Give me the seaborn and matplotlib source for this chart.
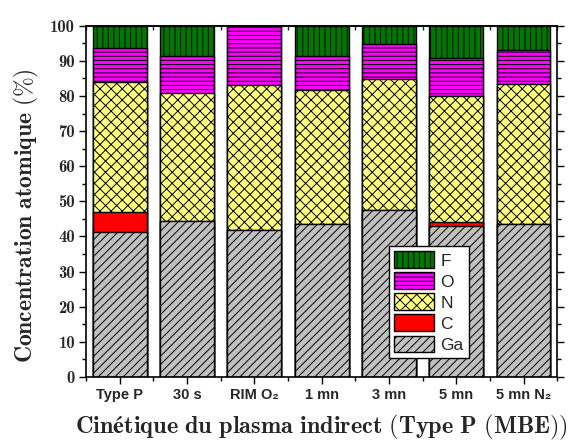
import matplotlib
matplotlib.use("Agg")
import matplotlib.pyplot as plt
import matplotlib.patches as mpatches
import numpy as np
import pandas as pd
import seaborn as sns

# Données (% atomique)
categories = ["Type P", "30 s", "RIM O\u2082", "1 mn", "3 mn", "5 mn", "5 mn N\u2082"]
ga = [41.4, 44.4, 41.9, 43.5, 47.6, 43.1, 43.6]
c = [5.5, 0.0, 0.0, 0.0, 0.0, 0.9, 0.0]
n = [37.2, 36.4, 41.2, 38.3, 37.3, 36.1, 39.8]
o = [9.5, 10.7, 16.9, 9.7, 9.9, 10.6, 9.6]
f = [6.4, 8.5, 0.0, 8.5, 5.2, 9.3, 7.0]
yticks = list(range(0, 101, 10))

elements = ["Ga", "C", "N", "O", "F"]
colors = {"Ga": "#C0C0C0", "C": "#FF0000", "N": "#FFFF80", "O": "#FF00FF", "F": "#007800"}
hatches = {"Ga": "////", "C": "", "N": "xxx", "O": "----", "F": "|||"}

df = pd.DataFrame({"cat": categories, "Ga": ga, "C": c, "N": n, "O": o, "F": f})
cum = df[elements].cumsum(axis=1)

sns.set_theme(style="ticks")
plt.rcParams["hatch.color"] = "black"
plt.rcParams["hatch.linewidth"] = 0.7
plt.rcParams["mathtext.fontset"] = "cm"
plt.rcParams["font.family"] = ["Liberation Sans", "DejaVu Sans"]

fig = plt.figure(figsize=(5.78, 4.44), dpi=100)
ax = fig.add_axes([0.149, 0.151, 0.815, 0.791])

# empilement : on trace les cumuls du haut vers le bas
for el in reversed(elements):
    sns.barplot(x=df["cat"], y=cum[el], color=colors[el], hatch=hatches[el],
                edgecolor="black", linewidth=1, width=0.8, saturation=1, ax=ax)

ax.set_xlim(-0.5, 6.5)
ax.set_ylim(0, 100)
ax.set_yticks(yticks)
ax.set_yticklabels([str(v) for v in yticks], fontsize=12, family=["cmb10", "DejaVu Serif"])
ax.set_yticks(np.arange(0, 101, 5), minor=True)
ax.set_xticks(range(len(categories)))
ax.set_xticklabels(categories, fontweight="bold", fontsize=10.5)
ax.set_xticks(np.arange(-0.5, 7, 1), minor=True)

ax.tick_params(axis="both", which="major", direction="out", length=5, width=1, color="black", pad=3)
ax.tick_params(axis="both", which="minor", direction="out", length=3, width=1, color="black")
ax.tick_params(axis="y", right=True, which="both")

top = ax.secondary_xaxis("top")
top.set_xticks(range(len(categories)))
top.set_xticks(np.arange(-0.5, 7, 1), minor=True)
top.tick_params(which="major", direction="in", length=6, width=1, labeltop=False)
top.tick_params(which="minor", direction="in", length=3, width=1)
top.set_xticklabels([])

for sp in ax.spines.values():
    sp.set_visible(True)
    sp.set_linewidth(1.2)
    sp.set_color("black")
top.spines["top"].set_linewidth(1.2)

ax.set_xlabel(r"$\mathbf{Cinétique\ du\ plasma\ indirect\ (Type\ P\ (MBE))}$",
              fontsize=17.5, labelpad=8)
ax.set_ylabel(r"$\mathbf{Concentration\ atomique\ (\%)}$", fontsize=17)
ax.yaxis.set_label_coords(-0.095, 0.46)

handles = [mpatches.Patch(facecolor=colors[el], hatch=hatches[el], edgecolor="black", label=el)
           for el in reversed(elements)]
leg = ax.legend(handles=handles, loc="lower left", bbox_to_anchor=(0.643, 0.054),
                fontsize=12.5, frameon=True, fancybox=False, framealpha=1,
                edgecolor="black", handlelength=2.3, handleheight=1.1,
                labelspacing=0.22, handletextpad=0.35, borderpad=0.3, borderaxespad=0)
leg.get_frame().set_linewidth(1)

fig.savefig("out.png", dpi=100)
